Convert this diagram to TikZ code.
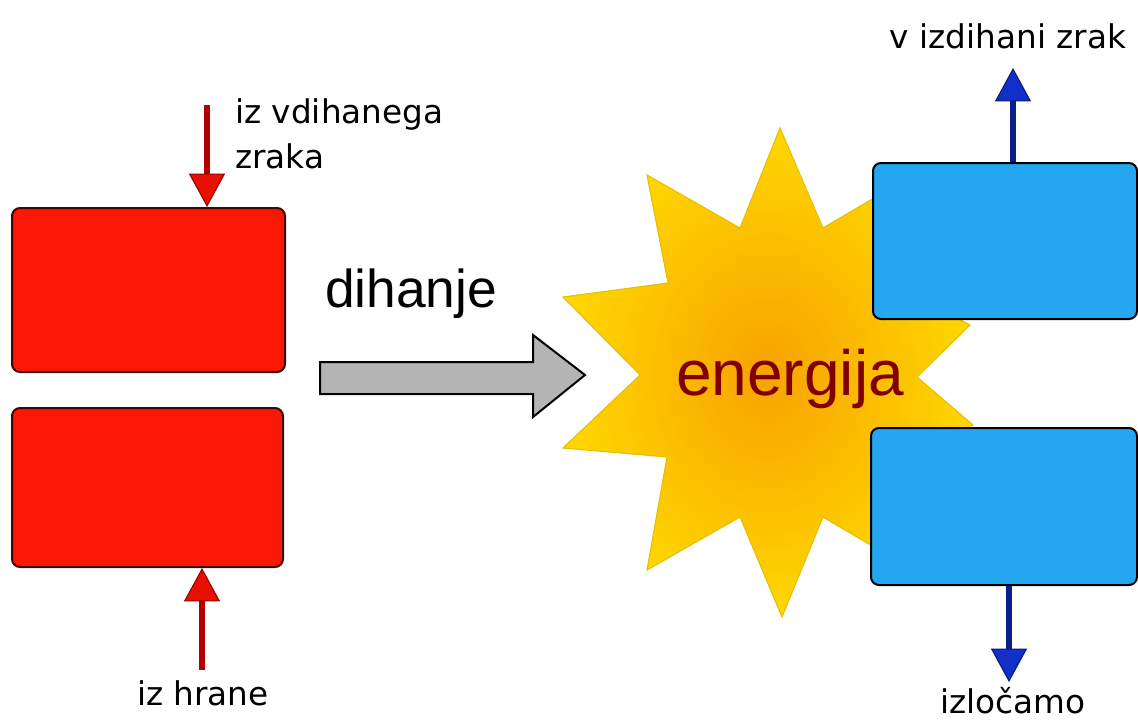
\documentclass[tikz,border=0pt]{standalone}
\usepackage{fontspec}
\setmainfont{Liberation Sans}
\newfontfamily\labfont{DejaVu Sans}
\usetikzlibrary{arrows.meta}
\definecolor{boxred}{RGB}{250,24,4}
\definecolor{redline}{RGB}{60,10,0}
\definecolor{boxblue}{RGB}{36,166,240}
\definecolor{shaftred}{RGB}{180,0,0}
\definecolor{headred}{RGB}{232,16,0}
\definecolor{headredge}{RGB}{150,0,0}
\definecolor{shaftblue}{RGB}{10,30,140}
\definecolor{headblue}{RGB}{16,48,200}
\definecolor{headbedge}{RGB}{10,24,120}
\definecolor{arrowgray}{RGB}{180,180,180}
\definecolor{starorange}{RGB}{247,162,0}
\definecolor{staryellow}{RGB}{255,215,0}
\definecolor{staredge}{RGB}{230,190,0}
\definecolor{energred}{RGB}{128,0,0}
\begin{document}
\begin{tikzpicture}[x=0.75pt,y=-0.75pt,
  redbox/.style={draw=redline, fill=boxred, line width=1.5pt, rounded corners=6pt, inner sep=0pt},
  bluebox/.style={draw=black, fill=boxblue, line width=1.5pt, rounded corners=6pt, inner sep=0pt},
  lab/.style={font=\labfont\fontsize{24.5pt}{29pt}\selectfont, inner sep=0pt, text=black},
  redarrow/.style={draw=shaftred, line width=4.5pt, -{Triangle[length=25pt,width=27pt,fill=headred,color=headredge,line width=0.8pt]}},
  bluearrow/.style={draw=shaftblue, line width=4.5pt, -{Triangle[length=25pt,width=27pt,fill=headblue,color=headbedge,line width=0.8pt]}},
  starshape/.style={draw=staredge, line width=0.8pt, shading=radial, inner color=starorange, outer color=staryellow},
  grayarrow/.style={draw=black, fill=arrowgray, line width=1.5pt, line join=miter}
]
\useasboundingbox (0,0) rectangle (1138,722);
% star
\path[starshape] (780,128) -- (823,228) -- (913,175) -- (892,283) -- (970,325) -- (917,377)
  -- (973,425) -- (893,457) -- (913,570) -- (823,517) -- (782,617) -- (740,517)
  -- (647,570) -- (667,457) -- (563,448) -- (640,375) -- (563,297) -- (668,283)
  -- (647,175) -- (740,228) -- cycle;
% gray arrow
\path[grayarrow] (320,362) -- (533,362) -- (533,335) -- (585,375) -- (533,417) -- (533,394) -- (320,394) -- cycle;
% boxes
\node[redbox, minimum width=204.75pt, minimum height=123pt] (rtop) at (148.5,290) {};
\node[redbox, minimum width=203.25pt, minimum height=119.25pt] (rbot) at (147.5,487.5) {};
\node[bluebox, minimum width=198pt, minimum height=117pt] (btop) at (1005,241) {};
\node[bluebox, minimum width=199.5pt, minimum height=117.75pt] (bbot) at (1004,506.5) {};
% arrows
\coordinate (rt) at (207,105);
\coordinate (rb) at (202,670);
\coordinate (bt) at (1013,68);
\coordinate (bb) at (1009,682);
\draw[redarrow] (rt) -- (rt |- rtop.north);
\draw[redarrow] (rb) -- (rb |- rbot.south);
\draw[bluearrow] (bt |- btop.north) -- (bt);
\draw[bluearrow] (bb |- bbot.south) -- (bb);
% texts
\node[lab, anchor=base west] (t1) at (235,123) {iz vdihanega};
\node[lab, anchor=base west] (t2) at (235,168) {zraka};
\node[lab, anchor=base] (t3) at (203,705) {iz hrane};
\node[lab, anchor=base] (t4) at (1008,48) {v izdihani zrak};
\node[lab, anchor=base] (t5) at (1013,713) {izločamo};
\node[font=\fontsize{40pt}{48pt}\selectfont, anchor=base, inner sep=0pt] (dih) at (411,307) {dihanje};
\node[font=\fontsize{48pt}{58pt}\selectfont, anchor=base, inner sep=0pt, text=energred] (en) at (790,395) {energija};
\end{tikzpicture}
\end{document}
